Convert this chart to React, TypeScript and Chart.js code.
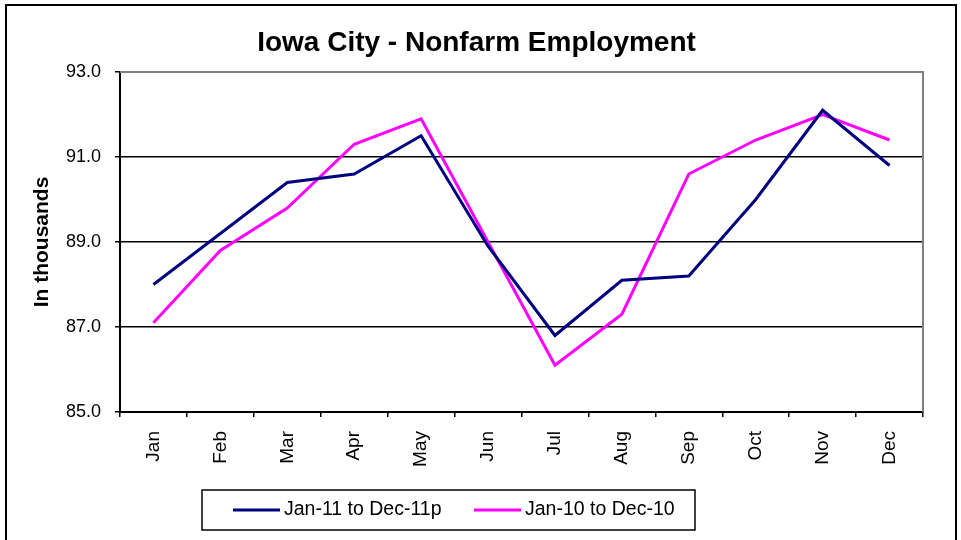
import React, { useEffect, useRef } from "react";
import { Chart, registerables } from "chart.js";

Chart.register(...registerables);

const months = ["Jan", "Feb", "Mar", "Apr", "May", "Jun", "Jul", "Aug", "Sep", "Oct", "Nov", "Dec"];
const series2011 = [88.0, 89.2, 90.4, 90.6, 91.5, 88.9, 86.8, 88.1, 88.2, 90.0, 92.1, 90.8];
const series2010 = [87.1, 88.8, 89.8, 91.3, 91.9, 89.0, 86.1, 87.3, 90.6, 91.4, 92.0, 91.4];
const label2011 = "Jan-11 to Dec-11p";
const label2010 = "Jan-10 to Dec-10";
const yTicks = [85, 87, 89, 91, 93];
const chartTitle = "Iowa City - Nonfarm Employment";
const yTitle = "In thousands";

const FONT = "'Liberation Sans', Arial, sans-serif";

const decorPlugin = {
  id: "decor",
  beforeDatasetsDraw(chart: any) {
    const { ctx, chartArea: a } = chart;
    ctx.save();
    ctx.strokeStyle = "#808080";
    ctx.lineWidth = 2;
    ctx.beginPath();
    ctx.moveTo(a.left, a.top);
    ctx.lineTo(a.right, a.top);
    ctx.lineTo(a.right, a.bottom);
    ctx.stroke();
    ctx.restore();
  },
  afterDraw(chart: any) {
    const { ctx } = chart;
    ctx.save();
    // outer frame
    ctx.strokeStyle = "#000";
    ctx.lineWidth = 2;
    ctx.beginPath();
    ctx.moveTo(6, 541);
    ctx.lineTo(6, 5);
    ctx.lineTo(956, 5);
    ctx.lineTo(956, 541);
    ctx.stroke();

    // legend box
    const bx = 202, by = 490, bw = 493, bh = 40;
    ctx.lineWidth = 1.5;
    ctx.strokeRect(bx, by, bw, bh);
    const items = chart.data.datasets;
    const starts = [233, 474];
    const cy = by + bh / 2;
    ctx.font = `19.5px ${FONT}`;
    ctx.textBaseline = "middle";
    ctx.textAlign = "left";
    items.forEach((ds: any, i: number) => {
      const x0 = starts[i];
      ctx.strokeStyle = ds.borderColor;
      ctx.lineWidth = 3;
      ctx.beginPath();
      ctx.moveTo(x0, cy);
      ctx.lineTo(x0 + 47, cy);
      ctx.stroke();
      ctx.fillStyle = "#000";
      ctx.fillText(ds.label, x0 + 51, cy);
    });
    ctx.restore();
  },
};

export default function App() {
  const ref = useRef<HTMLCanvasElement>(null);
  useEffect(() => {
    document.body.style.margin = "0";
    document.body.style.overflow = "hidden";
    Chart.defaults.font.family = FONT;
    Chart.defaults.color = "#000";
    const chart = new Chart(ref.current!, {
      type: "line",
      data: {
        labels: months,
        datasets: [
          {
            label: label2011,
            data: series2011,
            borderColor: "#000080",
            backgroundColor: "#000080",
            borderWidth: 3,
            pointRadius: 0,
            tension: 0,
            fill: false,
          },
          {
            label: label2010,
            data: series2010,
            borderColor: "#FF00FF",
            backgroundColor: "#FF00FF",
            borderWidth: 3,
            pointRadius: 0,
            tension: 0,
            fill: false,
          },
        ],
      },
      options: {
        responsive: false,
        animation: false,
        devicePixelRatio: 1,
        layout: { padding: { left: 30, right: 38, top: 0, bottom: 0 } },
        plugins: {
          legend: { display: false },
          tooltip: { enabled: false },
          title: {
            display: true,
            text: chartTitle,
            color: "#000",
            font: { size: 28, weight: "bold", family: FONT },
            padding: { top: 26.7, bottom: 11.7 },
          },
        },
        scales: {
          x: {
            offset: true,
            afterFit: (s: any) => {
              s.height = 128;
            },
            ticks: {
              font: { size: 19 },
              color: "#000",
              maxRotation: 90,
              minRotation: 90,
              padding: 14,
              autoSkip: false,
            },
            grid: {
              offset: true,
              drawOnChartArea: false,
              tickLength: 5,
              color: "#000",
              lineWidth: 1.5,
            },
            border: { color: "#000", width: 2 },
          },
          y: {
            min: 85,
            max: 93,
            afterBuildTicks: (s: any) => {
              s.ticks = yTicks.map((v) => ({ value: v }));
            },
            afterFit: (s: any) => {
              s.width = 90;
            },
            ticks: {
              font: { size: 18 },
              color: "#000",
              padding: 14,
              callback: (v: any) => Number(v).toFixed(1),
            },
            grid: {
              color: (c: any) => (c.tick && c.tick.value === 93 ? "rgba(0,0,0,0)" : "#000"),
              tickColor: "#000",
              tickLength: 5,
              lineWidth: 1.5,
            },
            border: { color: "#000", width: 2 },
            title: {
              display: true,
              text: yTitle,
              color: "#000",
              font: { size: 21, weight: "bold" },
              padding: { top: 0, bottom: 0 },
            },
          },
        },
      },
      plugins: [decorPlugin],
    });
    return () => chart.destroy();
  }, []);
  return (
    <div style={{ width: 961, height: 540 }}>
      <canvas ref={ref} width={961} height={540} style={{ display: "block" }} />
    </div>
  );
}
